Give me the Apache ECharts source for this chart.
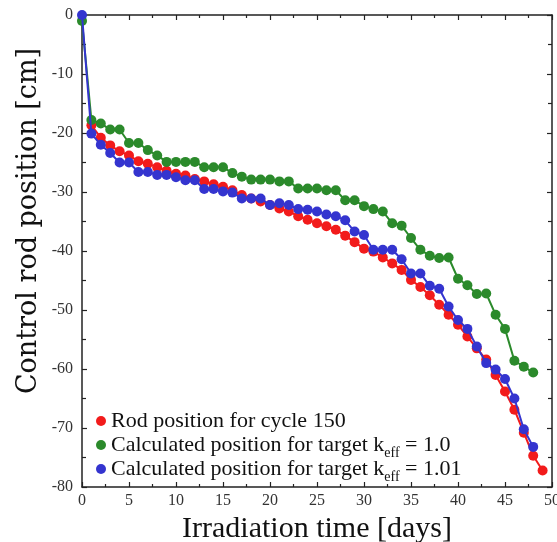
<!DOCTYPE html>
<html>
<head>
<meta charset="utf-8">
<script src="https://cdn.jsdelivr.net/npm/echarts@6/dist/echarts.min.js"></script>
<style>
  html, body { margin: 0; padding: 0; background: #fff; }
  #chart { width: 557px; height: 542px; }
</style>
</head>
<body>
<div id="chart"></div>
<script>
// irradiation days, one point per day
const days = [0, 1, 2, 3, 4, 5, 6, 7, 8, 9, 10, 11, 12, 13, 14, 15, 16, 17, 18, 19,
  20, 21, 22, 23, 24, 25, 26, 27, 28, 29, 30, 31, 32, 33, 34, 35, 36, 37, 38, 39,
  40, 41, 42, 43, 44, 45, 46, 47, 48, 49];

// rod position for cycle 150 (no point at day 0)
const rodCycle150 = [null, -18.7, -20.8, -22.1, -23.1, -23.8, -24.8, -25.2, -25.8, -26.4,
  -26.9, -27.2, -27.8, -28.2, -28.7, -29.1, -29.7, -30.5, -31.1, -31.6,
  -32.2, -32.8, -33.3, -34.1, -34.7, -35.3, -35.8, -36.4, -37.4, -38.5,
  -39.6, -40.1, -41.1, -42.1, -43.2, -44.9, -46.1, -47.5, -49.1, -50.8,
  -52.5, -54.5, -56.5, -58.4, -61.0, -63.8, -66.9, -70.8, -74.7, -77.2];

// calculated, target keff = 1.0
const calcKeff100 = [-1, -17.8, -18.4, -19.4, -19.4, -21.7, -21.7, -22.9, -23.8, -24.9,
  -24.9, -24.9, -24.9, -25.8, -25.8, -25.8, -26.8, -27.4, -27.9, -27.9,
  -27.9, -28.2, -28.2, -29.4, -29.4, -29.4, -29.7, -29.7, -31.4, -31.4,
  -32.4, -32.9, -33.3, -35.3, -35.7, -37.8, -39.8, -40.8, -41.2, -41.1,
  -44.7, -45.8, -47.3, -47.2, -50.8, -53.2, -58.6, -59.6, -60.6, null];

// calculated, target keff = 1.01
const calcKeff101 = [0, -20.1, -22.0, -23.4, -25.0, -25.0, -26.6, -26.6, -27.1, -27.1,
  -27.5, -28.0, -28.0, -29.5, -29.5, -29.9, -30.1, -31.1, -31.1, -31.1,
  -32.2, -31.9, -32.2, -32.9, -33.0, -33.3, -33.8, -34.1, -34.8, -36.7,
  -37.3, -39.8, -39.8, -39.8, -41.4, -43.8, -43.8, -45.9, -46.4, -49.4,
  -51.7, -53.2, -56.2, -59.0, -60.1, -61.7, -65.0, -70.2, -73.2, null];

const seriesNames = [
  'Rod position for cycle 150',
  'Calculated position for target k{sub|eff} = 1.0',
  'Calculated position for target k{sub|eff} = 1.01'
];
const colors = ['#f21b1b', '#2b8a2b', '#3434cf'];

const serif = '"Liberation Serif", "DejaVu Serif", serif';

function pairs(vals) {
  return days.map((d, i) => [d, vals[i]]).filter(p => p[1] !== null);
}

const chart = echarts.init(document.getElementById('chart'));

const tickStyle = { color: '#222', width: 1.2 };
const xBase = {
  type: 'value', min: 0, max: 50, interval: 5,
  axisLine: { show: true, onZero: false, lineStyle: { color: '#222', width: 1.5 } },
  axisTick: { show: true, inside: true, length: 5, lineStyle: tickStyle },
  minorTick: { show: true, splitNumber: 2, length: 3, lineStyle: tickStyle },
  splitLine: { show: false }
};
const yBase = {
  type: 'value', min: -80, max: 0, interval: 10,
  axisLine: { show: true, onZero: false, lineStyle: { color: '#222', width: 1.5 } },
  axisTick: { show: true, inside: true, length: 5, lineStyle: tickStyle },
  minorTick: { show: true, splitNumber: 2, length: 4, lineStyle: tickStyle },
  splitLine: { show: false }
};

const option = {
  animation: false,
  grid: { left: 82, right: 5, top: 15, bottom: 55, outerBoundsMode: 'none', containLabel: false },
  xAxis: [
    Object.assign({}, xBase, {
      position: 'bottom',
      name: 'Irradiation time [days]',
      nameLocation: 'middle',
      nameGap: 22,
      nameTextStyle: { fontFamily: serif, fontSize: 30, color: '#111', verticalAlign: 'top' },
      axisLabel: { fontFamily: serif, fontSize: 16, color: '#333', margin: 6 }
    }),
    Object.assign({}, xBase, { position: 'top', axisLabel: { show: false } })
  ],
  yAxis: [
    Object.assign({}, yBase, {
      position: 'left',
      axisLabel: { fontFamily: serif, fontSize: 16, color: '#333', margin: 9 }
    }),
    Object.assign({}, yBase, { position: 'right', axisLabel: { show: false } })
  ],
  graphic: [{
    type: 'text',
    x: 29,
    y: 221,
    rotation: Math.PI / 2,
    style: {
      text: 'Control rod position [cm]',
      fontFamily: '"DejaVu Serif", serif',
      fontSize: 27,
      fill: '#111',
      align: 'center',
      verticalAlign: 'middle'
    }
  }],
  legend: {
    orient: 'vertical',
    left: 91,
    top: 401,
    itemGap: -6,
    itemWidth: 10,
    itemHeight: 10,
    icon: 'circle',
    data: seriesNames,
    textStyle: {
      fontFamily: serif, fontSize: 22, color: '#111', lineHeight: 30,
      rich: {
        sub: { fontFamily: serif, fontSize: 14, lineHeight: 14, color: '#111', verticalAlign: 'bottom' }
      }
    }
  },
  series: seriesNames.map((name, k) => ({
    name: name,
    type: 'line',
    data: pairs([rodCycle150, calcKeff100, calcKeff101][k]),
    symbol: 'circle',
    symbolSize: 10,
    clip: false,
    itemStyle: { color: colors[k] },
    lineStyle: { color: colors[k], width: 2 },
    z: 2 + k
  }))
};

chart.setOption(option);
</script>
</body>
</html>
